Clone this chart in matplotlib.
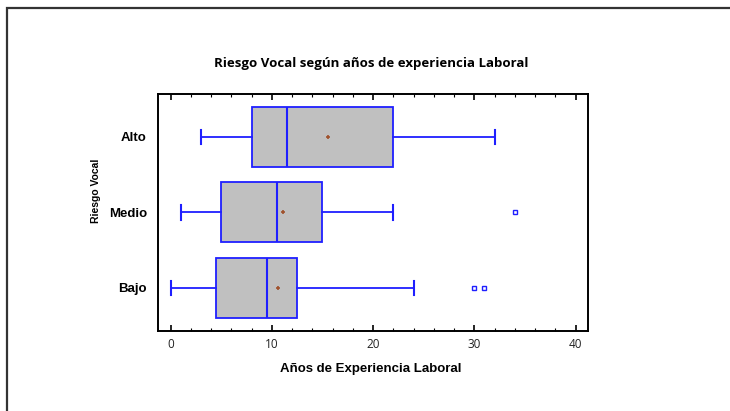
import matplotlib
matplotlib.use("Agg")
import matplotlib.pyplot as plt
from matplotlib.patches import Rectangle
from matplotlib.ticker import MultipleLocator

# categories bottom to top
groups = ["Bajo", "Medio", "Alto"]
whis_lo = [0, 1, 3]
q1 = [4.5, 5, 8]
medians = [9.5, 10.5, 11.5]
q3 = [12.5, 15, 22]
whis_hi = [24, 22, 32]
means = [10.6, 11.1, 15.5]
outliers = [[30, 31], [34], []]

BLUE = "#1f1fff"

stats = []
for i, g in enumerate(groups):
    stats.append({
        "label": g, "whislo": whis_lo[i], "q1": q1[i], "med": medians[i],
        "q3": q3[i], "whishi": whis_hi[i], "mean": means[i], "fliers": outliers[i],
    })

fig = plt.figure(figsize=(7.3, 4.11), dpi=100)
ax = fig.add_axes([0.2164, 0.1954, 0.5887, 0.5759])

ax.bxp(
    stats, positions=[1, 2, 3], vert=False, widths=0.8, patch_artist=True,
    showmeans=True, capwidths=0.19,
    boxprops=dict(facecolor="#c0c0c0", edgecolor=BLUE, linewidth=1.3),
    medianprops=dict(color=BLUE, linewidth=1.5),
    whiskerprops=dict(color=BLUE, linewidth=1.3),
    capprops=dict(color=BLUE, linewidth=1.5),
    flierprops=dict(marker="s", markersize=3, markerfacecolor="white",
                    markeredgecolor=BLUE, markeredgewidth=1.0),
    meanprops=dict(marker="+", markersize=3, markeredgecolor="#a0522d",
                   markeredgewidth=1.2),
)

ax.set_xlim(-1.25, 41.2)
ax.set_ylim(0.43, 3.57)
ax.xaxis.set_major_locator(MultipleLocator(10))
ax.xaxis.set_minor_locator(MultipleLocator(2))
ax.tick_params(axis="x", which="major", direction="in", length=4, width=1.2,
               top=True, labelsize=8.5, pad=5)
ax.tick_params(axis="x", which="minor", direction="in", length=2, width=0.8, top=True)
ax.tick_params(axis="y", length=0, pad=8)
for lab in ax.get_xticklabels():
    lab.set_family("Open Sans")
    lab.set_color("#222222")
for lab in ax.get_yticklabels():
    lab.set_family("Liberation Sans")
    lab.set_fontweight("bold")
    lab.set_fontsize(9.5)
for sp in ax.spines.values():
    sp.set_linewidth(1.4)

fig.text(371 / 730, 1 - 64 / 411, "Riesgo Vocal según años de experiencia Laboral",
         ha="center", va="center", fontsize=9.5, fontweight="bold", family="Open Sans")
fig.text(371 / 730, 1 - 369 / 411, "Años de Experiencia Laboral",
         ha="center", va="center", fontsize=9.5, fontweight="bold", family="Liberation Sans")
fig.text(96 / 730, 1 - 191 / 411, "Riesgo Vocal", rotation=90,
         ha="center", va="center", fontsize=7.5, fontweight="bold", family="Liberation Sans")

# outer frame (right and bottom edges fall outside the image)
fig.patches.append(Rectangle((7 / 730, -0.05), 1.2, 1 - 7.5 / 411 + 0.05,
                             transform=fig.transFigure, fill=False,
                             edgecolor="#333333", linewidth=1.6))

fig.savefig("out.png", dpi=100)
